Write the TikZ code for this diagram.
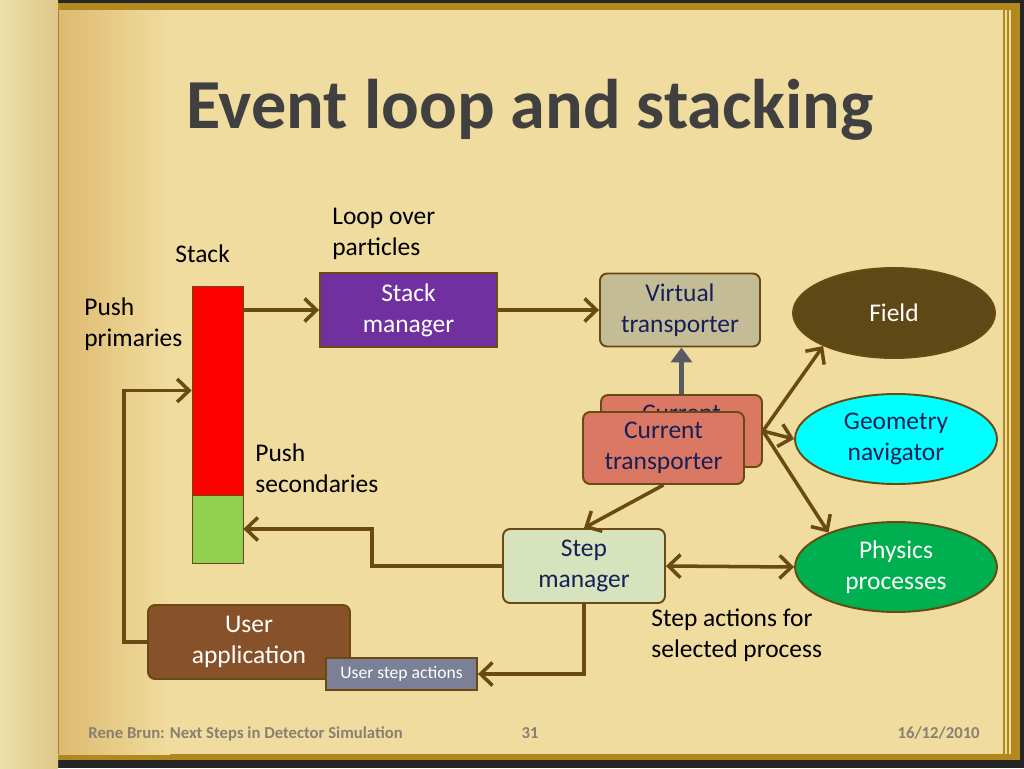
\documentclass[tikz,border=0pt]{standalone}
\usepackage{fontspec}
\setmainfont{Carlito}
\usetikzlibrary{arrows.meta,shapes.geometric}

\definecolor{parch}{RGB}{240,220,158}
\definecolor{parchdark}{RGB}{222,186,112}
\definecolor{leafl}{RGB}{238,224,172}
\definecolor{leafr}{RGB}{222,198,136}
\definecolor{pagegold}{RGB}{176,136,30}
\definecolor{linebrown}{RGB}{104,74,18}
\definecolor{txtnavy}{RGB}{22,32,88}
\definecolor{titlegray}{RGB}{64,64,64}
\definecolor{purplebox}{RGB}{112,48,160}
\definecolor{tanbox}{RGB}{196,188,150}
\definecolor{salmon}{RGB}{218,120,100}
\definecolor{stepgreen}{RGB}{214,227,188}
\definecolor{fieldbrown}{RGB}{94,72,22}
\definecolor{geocyan}{RGB}{0,255,255}
\definecolor{physgreen}{RGB}{0,176,80}
\definecolor{woodbrown}{RGB}{135,82,42}
\definecolor{usergray}{RGB}{124,128,150}
\definecolor{footgray}{RGB}{135,128,115}
\definecolor{stackred}{RGB}{255,0,0}
\definecolor{stackgreen}{RGB}{146,208,80}
\definecolor{arrowgray}{RGB}{88,90,100}

\begin{document}
\begin{tikzpicture}[x=0.02cm, y=-0.02cm,
	every node/.style={font=\fontsize{14.5}{17.5}\selectfont},
	box/.style={draw=linebrown, line width=1.1pt, rounded corners=4pt, minimum width=3.2cm, minimum height=1.46cm, align=center, text=txtnavy},
	oval/.style={draw=linebrown, line width=1.1pt, ellipse, minimum width=4.04cm, minimum height=1.8cm, align=center, inner sep=0pt},
	flow/.style={draw=linebrown, line width=2pt, -{Straight Barb[length=2.4mm,width=4.6mm]}},
	note/.style={align=left, anchor=west, inner sep=0pt},
	foot/.style={font=\fontsize{9.5}{11}\selectfont\bfseries, text=footgray, inner sep=0pt}]
			\useasboundingbox (0,0) rectangle (1024,768);
			% book background
			\fill[black!85] (0,0) rectangle (1024,768);
			\fill[pagegold] (50,3) rectangle (1020,760);
			\fill[parch] (58,10) rectangle (1012,754);
			\shade[left color=parchdark, right color=parch] (58,10) rectangle (170,754);
			\shade[left color=leafl, right color=leafr] (0,0) rectangle (58,768);
			\draw[parchdark!70!black, line width=0.4pt] (58,10) -- (58,754);
			\foreach \xx in {1004,1008,1012}
				\draw[pagegold, line width=0.6pt] (\xx,10) -- (\xx,754);
			
			\node[font=\fontsize{40}{48}\selectfont\bfseries, text=titlegray, anchor=base] (title) at (530,128) {Event loop and stacking};
			
			\node[note] (stacklbl) at (175,254) {Stack};
			\node[note] (loop) at (332,234) {Loop over\\particles};
			\node[note] (pushprim) at (84,324) {Push\\primaries};
			\node[note] (pushsec) at (255,468) {Push\\secondaries};
			\node[note] (stepact) at (651,635) {Step actions for\\selected process};
			
			\node[draw=linebrown, fill=stackred, minimum width=1.02cm, minimum height=4.18cm, inner sep=0pt] (stackred) at (217.5,390.5) {};
			\node[draw=linebrown, fill=stackgreen, minimum width=1.02cm, minimum height=1.36cm, inner sep=0pt] (stackgreen) at (217.5,529) {};
			
			\node[box, rounded corners=0pt, fill=purplebox, text=white, minimum width=3.54cm, minimum height=1.48cm] (stackmgr) at (408.5,310) {Stack\\manager};
			\node[box, fill=tanbox] (virtual) at (680,310) {Virtual\\transporter};
			\node[box, fill=salmon, minimum width=3.22cm, minimum height=1.44cm] (ctback) at (681.5,431) {Current\\transporter};
			\node[box, fill=salmon, minimum width=3.22cm, minimum height=1.44cm] (ctfront) at (663.5,448) {Current\\transporter};
			\node[box, fill=stepgreen, minimum width=3.24cm, minimum height=1.48cm] (stepmgr) at (584,566) {Step\\manager};
			\node[box, fill=woodbrown, text=white, minimum width=4.04cm, minimum height=1.48cm] (userapp) at (249,642) {User\\application};
			\node[draw=linebrown, line width=1.1pt, fill=usergray, text=white, font=\fontsize{10}{12}\selectfont, minimum width=3.02cm, minimum height=0.64cm] (usersteps) at (401.5,674) {User step actions};
			
			\node[oval, fill=fieldbrown, text=white] (field) at (894,313) {Field};
			\node[oval, fill=geocyan, text=txtnavy] (geom) at (896,439) {Geometry\\navigator};
			\node[oval, fill=physgreen, text=white] (phys) at (896,567) {Physics\\processes};
			
			\draw[flow] (stackred.east |- stackmgr.west) -- (stackmgr.west);
			\draw[flow] (stackmgr.east) -- (virtual.west);
			\draw[arrowgray, line width=2.8pt, -{Triangle[length=3mm,width=4.2mm]}] (ctback.north) -- (ctback.north |- virtual.south);
			\draw[flow] (ctback.east) -- (field.205);
			\draw[flow] (ctback.east) -- (geom.west);
			\draw[flow] (ctback.east) -- (phys.153);
			\draw[flow] (ctfront.south) -- (stepmgr.north);
			\draw[flow, {Straight Barb[length=2.4mm,width=4.6mm]}-{Straight Barb[length=2.4mm,width=4.6mm]}] (stepmgr.east) -- (phys.west);
			\draw[flow] (stepmgr.west) -- ++(-130,0) |- (stackgreen.east);
			\draw[flow] (stepmgr.south) |- (usersteps.east);
			\draw[flow] (userapp.west) -- ++(-23,0) |- (stackred.west);
			
			\node[foot, anchor=base west] (author) at (88,738) {Rene Brun: Next Steps in Detector Simulation};
			\node[foot, anchor=base] (page) at (530,738) {31};
			\node[foot, anchor=base east] (date) at (980,738) {16/12/2010};
		\end{tikzpicture}
\end{document}
